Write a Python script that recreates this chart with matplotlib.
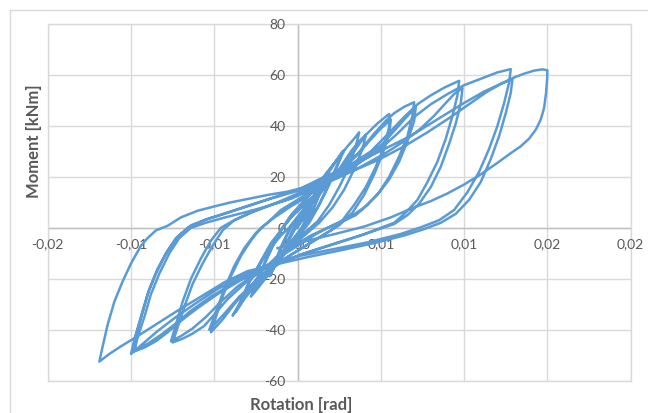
import numpy as np
import matplotlib.pyplot as plt
from matplotlib.transforms import offset_copy
from matplotlib.lines import Line2D

plt.rcParams['font.family'] = ['Lato', 'DejaVu Sans']

# axis ticks (Excel rounds the labels to 2 decimals)
x_ticks = [-0.015, -0.01, -0.005, 0.0, 0.005, 0.01, 0.015, 0.02]
x_tick_labels = ['-0,02', '-0,01', '-0,01', '0,00', '0,01', '0,01', '0,02', '0,02']
y_ticks = [-60, -40, -20, 0, 20, 40, 60, 80]
y_tick_labels = ['-60', '-40', '-20', '0', '20', '40', '60', '80']

# (rotation [rad], moment [kNm]), cycle by cycle
cycle_1 = [(0.0, 0), (0.0003, 4), (0.0006, 8), (0.0009, 11),
           (0.0007, 7), (0.0004, 2), (0.0001, -2), (-0.0003, -5), (-0.0006, -8), (-0.0008, -9.5),
           (-0.0006, -5), (-0.0003, -1), (0.0, 2), (0.0004, 6), (0.0008, 10), (0.0010, 12),
           (0.0008, 8), (0.0005, 3), (0.0001, -2), (-0.0004, -6), (-0.0008, -10), (-0.0006, -6),
           (-0.0002, -1)]

cycle_2 = [(0.0003, 3), (0.0008, 9), (0.0013, 15), (0.0017, 20),
           (0.0014, 15), (0.0009, 7), (0.0004, 1), (-0.0002, -4), (-0.0008, -9), (-0.0012, -13),
           (-0.0016, -18),
           (-0.0013, -13), (-0.0008, -5), (-0.0004, 1), (0.0002, 6), (0.0008, 11), (0.0013, 16),
           (0.0018, 21),
           (0.0015, 16), (0.0010, 8), (0.0005, 2), (-0.0001, -3), (-0.0007, -8), (-0.0012, -13),
           (-0.0017, -19),
           (-0.0014, -14), (-0.0009, -6), (-0.0004, 0)]

cycle_3 = [(0.0002, 5), (0.0008, 11), (0.0014, 17), (0.0020, 23), (0.0025, 28), (0.0027, 30),
           (0.0024, 25), (0.0018, 16), (0.0012, 8), (0.0006, 2), (0.0, -3), (-0.0006, -7),
           (-0.0012, -12), (-0.0018, -17), (-0.0023, -22), (-0.0027, -26),
           (-0.0024, -21), (-0.0019, -13), (-0.0014, -6), (-0.0009, 0), (-0.0003, 5), (0.0004, 10),
           (0.0011, 16), (0.0018, 22), (0.0024, 27), (0.0028, 30.5),
           (0.0025, 26), (0.0019, 17), (0.0013, 9), (0.0007, 2), (0.0001, -3), (-0.0005, -8),
           (-0.0011, -13), (-0.0017, -18), (-0.0023, -23), (-0.0028, -27),
           (-0.0025, -22), (-0.0020, -14), (-0.0015, -7), (-0.0010, -1)]

cycle_4 = [(-0.0004, 5), (0.0003, 10), (0.0010, 15), (0.0017, 21), (0.0024, 27), (0.0030, 32),
           (0.0034, 35), (0.0037, 37.5),
           (0.0035, 32), (0.0031, 24), (0.0025, 16), (0.0019, 9), (0.0012, 2.5), (0.0004, -2),
           (-0.0004, -6), (-0.0012, -11), (-0.0020, -16), (-0.0027, -22), (-0.0033, -28),
           (-0.0039, -34.5),
           (-0.0034, -29), (-0.0030, -22.5), (-0.0024, -16), (-0.0018, -9.5), (-0.0010, -3),
           (-0.0002, 2), (0.0005, 7), (0.0012, 12), (0.0019, 18), (0.0026, 24), (0.0032, 30),
           (0.0037, 34), (0.0041, 36.5),
           (0.0039, 31), (0.0034, 23), (0.0028, 15), (0.0021, 8), (0.0013, 2), (0.0005, -2.5),
           (-0.0003, -7), (-0.0011, -12), (-0.0019, -17), (-0.0026, -23), (-0.0032, -28),
           (-0.0037, -33),
           (-0.0033, -27), (-0.0028, -20), (-0.0022, -13), (-0.0016, -6), (-0.0010, -1)]

cycle_5 = [(-0.0004, 4), (0.0004, 9), (0.0012, 14), (0.0020, 19), (0.0028, 25), (0.0035, 31),
           (0.0041, 36.5), (0.0048, 41), (0.0055, 44.7),
           (0.0055, 39.5), (0.0052, 32), (0.0047, 24), (0.0041, 16), (0.0034, 9), (0.0027, 3),
           (0.0020, -1), (0.0010, -5), (0.0, -9), (-0.0010, -13), (-0.0020, -18), (-0.0030, -24),
           (-0.0038, -30), (-0.0045, -36), (-0.0052, -41),
           (-0.0049, -35), (-0.0045, -27), (-0.0040, -19), (-0.0034, -11), (-0.0028, -5),
           (-0.0022, 0), (-0.0014, 4), (-0.0005, 8),
           (0.0005, 12), (0.0015, 17), (0.0025, 22), (0.0035, 28), (0.0043, 34), (0.0050, 39),
           (0.0056, 42.5),
           (0.0055, 37), (0.0051, 29), (0.0046, 21), (0.0040, 13), (0.0033, 6), (0.0025, 1),
           (0.0015, -3), (0.0005, -7), (-0.0005, -11), (-0.0015, -16), (-0.0025, -21),
           (-0.0035, -27), (-0.0043, -33), (-0.0050, -38), (-0.0053, -40),
           (-0.0049, -33), (-0.0044, -24), (-0.0038, -15), (-0.0032, -8), (-0.0025, -2),
           (-0.0018, 2)]

cycle_6 = [(-0.0010, 7), (0.0, 11), (0.0012, 16), (0.0024, 22), (0.0036, 29), (0.0046, 37),
           (0.0053, 42), (0.0058, 45), (0.0064, 47.5), (0.0070, 49.3),
           (0.0069, 44), (0.0066, 36), (0.0061, 28), (0.0055, 20), (0.0049, 14), (0.0042, 9),
           (0.0035, 5), (0.0027, 2.5), (0.0018, 0), (0.0008, -3), (-0.0002, -7), (-0.0012, -12),
           (-0.0022, -17), (-0.0032, -22), (-0.0042, -28), (-0.0050, -34), (-0.0056, -38.5),
           (-0.0063, -41.5), (-0.0069, -43.5), (-0.0075, -45),
           (-0.0072, -39), (-0.0068, -31), (-0.0063, -22), (-0.0057, -14), (-0.0051, -7),
           (-0.0045, -1), (-0.0038, 3), (-0.0028, 6), (-0.0016, 9), (-0.0004, 11.5),
           (0.0008, 15), (0.0020, 19), (0.0032, 23), (0.0042, 28), (0.0051, 33), (0.0058, 38),
           (0.0064, 42.5), (0.0069, 46), (0.0071, 47.5),
           (0.0070, 42), (0.0066, 34), (0.0061, 26), (0.0055, 19), (0.0048, 13), (0.0040, 8),
           (0.0031, 4), (0.0021, 1), (0.0011, -2.5), (0.0, -7), (-0.0012, -12), (-0.0024, -17.5),
           (-0.0036, -23), (-0.0046, -29), (-0.0055, -35), (-0.0063, -39.5), (-0.0070, -42.5),
           (-0.0076, -44.5),
           (-0.0073, -38), (-0.0069, -29), (-0.0064, -20), (-0.0058, -12), (-0.0052, -5),
           (-0.0046, 0), (-0.0038, 3)]

cycle_7 = [(-0.0026, 6.5), (-0.0012, 10), (0.0002, 14), (0.0016, 19), (0.0030, 24),
           (0.0044, 30), (0.0056, 38), (0.0064, 43.5), (0.0072, 48.5), (0.0080, 52), (0.0088, 55),
           (0.0093, 56.5), (0.0097, 57.7),
           (0.0096, 52), (0.0093, 44), (0.0089, 35), (0.0084, 26), (0.0078, 18), (0.0072, 11),
           (0.0065, 6), (0.0058, 2), (0.0050, 0), (0.0040, -2.5), (0.0028, -5), (0.0016, -7.5),
           (0.0004, -10), (-0.0008, -13), (-0.0020, -16), (-0.0034, -20.5), (-0.0048, -26),
           (-0.0060, -31.5), (-0.0070, -36.5), (-0.0078, -41), (-0.0085, -44.5), (-0.0092, -47),
           (-0.0098, -48.5),
           (-0.0096, -43), (-0.0092, -35), (-0.0088, -26), (-0.0083, -18), (-0.0077, -10),
           (-0.0071, -4), (-0.0064, 0), (-0.0055, 2), (-0.0044, 4), (-0.0032, 6), (-0.0018, 8.5),
           (-0.0004, 11.5),
           (0.0010, 15.5), (0.0024, 19.5), (0.0038, 24), (0.0052, 29), (0.0064, 34), (0.0074, 39),
           (0.0082, 44), (0.0089, 49), (0.0094, 52.5), (0.0099, 54.9),
           (0.0098, 49), (0.0095, 41), (0.0091, 33), (0.0086, 24), (0.0080, 16), (0.0073, 9.5),
           (0.0066, 5), (0.0058, 1.5), (0.0049, -0.5), (0.0038, -3), (0.0026, -5.5),
           (0.0014, -8), (0.0002, -10.5), (-0.0010, -13.5), (-0.0024, -17), (-0.0038, -21.5),
           (-0.0052, -27), (-0.0064, -32.5), (-0.0074, -38), (-0.0082, -42), (-0.0090, -45.5),
           (-0.0096, -47.5), (-0.0099, -48.2),
           (-0.0097, -42), (-0.0093, -33), (-0.0089, -24), (-0.0084, -16), (-0.0078, -9),
           (-0.0071, -3), (-0.0064, 1)]

cycle_8 = [(-0.0054, 3.5), (-0.0042, 6), (-0.0028, 9), (-0.0014, 12), (0.0, 15), (0.0016, 19),
           (0.0032, 23.5), (0.0048, 30), (0.0060, 37), (0.0070, 43.5), (0.0080, 48.5),
           (0.0090, 52.5), (0.0100, 56), (0.0110, 58.5), (0.0120, 61), (0.0128, 62.3),
           (0.0127, 57), (0.0124, 49), (0.0120, 40), (0.0115, 31), (0.0109, 22), (0.0102, 14),
           (0.0094, 7), (0.0085, 3), (0.0074, 0.2), (0.0062, -2.4), (0.0042, -5.7),
           (0.0022, -8.3), (0.0002, -10.9), (-0.0016, -14), (-0.0032, -18.5), (-0.0048, -24),
           (-0.0062, -30), (-0.0074, -35.5), (-0.0084, -40.5), (-0.0092, -45), (-0.0100, -49.5),
           (-0.0098, -44), (-0.0094, -35), (-0.0090, -26), (-0.0085, -18), (-0.0079, -10),
           (-0.0073, -4), (-0.0066, 0), (-0.0056, 3), (-0.0044, 5.5), (-0.0030, 8.5),
           (-0.0016, 11.5), (0.0, 14.5), (0.0016, 18), (0.0032, 22), (0.0048, 26.5),
           (0.0064, 32), (0.0078, 37.5), (0.0092, 43.5), (0.0104, 49), (0.0114, 53.5),
           (0.0122, 56.5), (0.0129, 58.4),
           (0.0128, 53), (0.0125, 45), (0.0121, 36), (0.0116, 27), (0.0110, 18), (0.0103, 11),
           (0.0095, 5.5), (0.0086, 2), (0.0076, -0.5), (0.0064, -3), (0.0046, -6),
           (0.0026, -8.8), (0.0006, -11.5), (-0.0014, -14.5), (-0.0030, -17), (-0.0044, -21.4),
           (-0.0058, -27), (-0.0072, -32.5), (-0.0084, -37.5), (-0.0096, -42.5),
           (-0.0106, -46.5), (-0.0113, -49.5), (-0.0119, -52.5),
           (-0.0117, -46.5), (-0.0114, -38), (-0.0110, -29), (-0.0105, -21), (-0.0100, -14),
           (-0.0094, -7), (-0.0090, -4), (-0.0085, -1), (-0.0078, 0.8), (-0.0070, 4.1),
           (-0.0060, 6.7), (-0.0050, 8.4), (-0.0040, 10), (-0.0030, 11.3), (-0.0018, 12.9),
           (-0.0006, 14.2), (0.0002, 15.5)]

cycle_final = [(0.0016, 20), (0.0032, 24.4), (0.0052, 30.9), (0.0068, 36.1), (0.0085, 43),
               (0.0100, 49), (0.0112, 53.5), (0.0122, 56.5), (0.0130, 59), (0.0136, 60.5),
               (0.0142, 61.7), (0.0147, 62.2), (0.0150, 61.8),
               (0.01498, 58), (0.01492, 53), (0.0148, 47), (0.0146, 42.5), (0.0143, 38.5),
               (0.0139, 35), (0.0134, 32), (0.0128, 29.3), (0.0120, 25.5), (0.0110, 21),
               (0.0100, 17), (0.0090, 13.5), (0.0080, 10.5), (0.0068, 7.5), (0.0056, 4.1),
               (0.0040, 0.5), (0.0022, -2.5), (0.0002, -5.7), (-0.0012, -8)]

cycles = [cycle_1, cycle_2, cycle_3, cycle_4, cycle_5, cycle_6, cycle_7, cycle_8, cycle_final]
pts = np.array([p for c in cycles for p in c])
rot = pts[:, 0]
mom = pts[:, 1]

fig = plt.figure(figsize=(6.48, 4.14), dpi=100)
ax = fig.add_axes([47.7 / 648, 1 - 381.7 / 414, (630.7 - 47.7) / 648, (381.7 - 25) / 414])

ax.plot(rot, mom, color='#5B9BD5', lw=1.8, solid_joinstyle='round', zorder=4)

ax.set_xlim(-0.015, 0.02)
ax.set_ylim(-60, 80)
ax.set_xticks(x_ticks)
ax.set_yticks(y_ticks)
ax.tick_params(length=0, labelbottom=False, labelleft=False)
ax.grid(color='#D9D9D9', lw=1)
ax.set_axisbelow(True)
for s in ax.spines.values():
    s.set_color('#D9D9D9')
    s.set_linewidth(1)
ax.axhline(0, color='#BFBFBF', lw=1, zorder=2)
ax.axvline(0, color='#BFBFBF', lw=1, zorder=2)

# tick labels sit next to the zero lines like in Excel
txt_color = '#595959'
x_lab_tr = offset_copy(ax.transData, fig=fig, x=0, y=-9, units='dots')
for xv, lab in zip(x_ticks, x_tick_labels):
    ax.text(xv, 0, lab, transform=x_lab_tr, ha='center', va='top',
            fontsize=10, color=txt_color, zorder=3)
y_lab_tr = offset_copy(ax.transData, fig=fig, x=-12, y=0, units='dots')
for yv, lab in zip(y_ticks, y_tick_labels):
    ax.text(0, yv, lab, transform=y_lab_tr, ha='right', va='center',
            fontsize=10, color=txt_color, zorder=3)

fig.text(34 / 648, 1 - 141 / 414, 'Moment [kNm]', rotation=90, ha='center', va='center',
         fontsize=12, fontweight='bold', color=txt_color)
fig.text(301.5 / 648, 1 - 405 / 414, 'Rotation [rad]', ha='center', va='center',
         fontsize=12, fontweight='bold', color=txt_color)

# chart area border (cropped on the right and bottom)
fig.add_artist(Line2D([10 / 648, 10 / 648], [0, 1 - 11 / 414], transform=fig.transFigure,
                      color='#D9D9D9', lw=1))
fig.add_artist(Line2D([10 / 648, 1], [1 - 11 / 414, 1 - 11 / 414], transform=fig.transFigure,
                      color='#D9D9D9', lw=1))

fig.savefig('out.png', dpi=100, facecolor='white')
